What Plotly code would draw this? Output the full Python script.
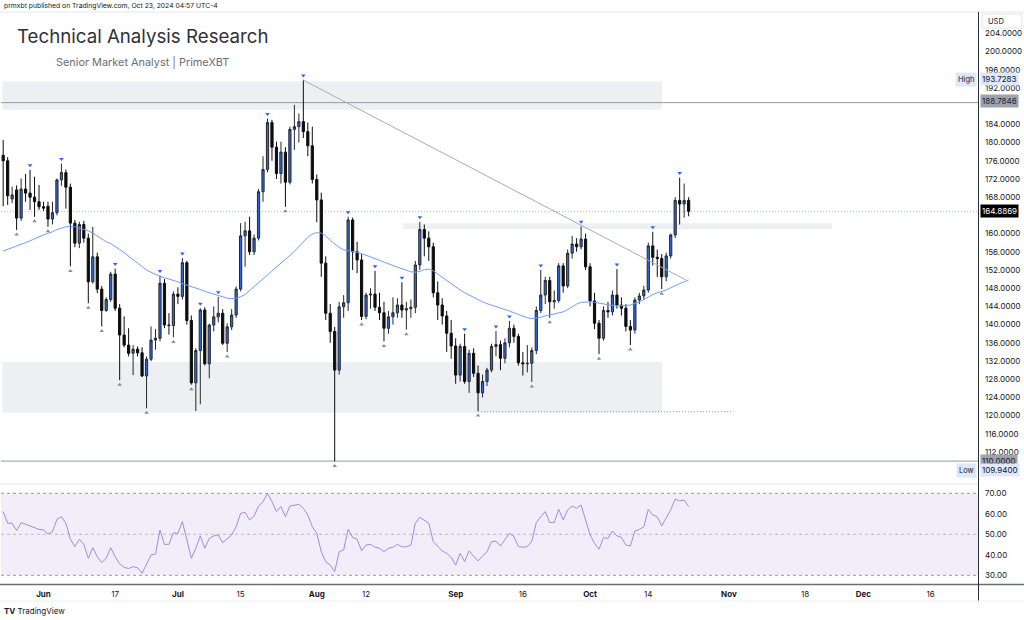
import plotly.graph_objects as go
import pandas as pd

# ---------------- data ----------------
dates = pd.date_range("2024-05-23", periods=154, freq="D")

opens = [177.2, 176.0, 167.6, 169.6, 163.4, 169.8, 168.9, 168.0, 167.0, 165.9,
         166.0, 163.2, 164.6, 171.8, 173.4, 170.2, 162.3, 157.9, 162.0, 159.0,
         149.4, 154.9, 147.8, 143.1, 145.5, 151.1, 143.6, 137.7, 135.5, 133.7,
         134.6, 133.8, 128.7, 132.4, 136.6, 137.0, 149.1, 139.9, 139.8, 146.7,
         146.2, 153.6, 140.9, 127.2, 134.3, 143.2, 131.4, 139.9, 141.7, 142.5,
         135.9, 139.5, 142.1, 147.8, 159.5, 160.6, 156.0, 159.0, 169.2, 174.1,
         184.4, 179.0, 173.2, 177.9, 171.3, 182.9, 183.5, 184.6, 182.4, 179.3,
         171.9, 167.4, 153.5, 142.5, 138.5, 130.0, 143.9, 144.8, 163.0, 156.0,
         154.2, 141.8, 146.5, 146.7, 143.8, 142.6, 139.2, 141.7, 142.6, 144.3,
         143.2, 143.5, 143.8, 153.1, 160.9, 159.0, 157.1, 147.0, 144.3, 141.9,
         138.1, 135.3, 128.9, 135.2, 127.5, 133.7, 129.3, 125.0, 127.5, 130.0,
         135.2, 135.6, 132.6, 136.0, 139.2, 137.4, 131.6, 131.4, 131.5, 134.3,
         143.1, 146.5, 149.7, 145.0, 145.3, 152.9, 148.5, 155.7, 157.7, 157.1,
         158.8, 152.7, 145.2, 140.3, 137.0, 143.1, 142.8, 146.5, 144.3, 143.6,
         139.6, 138.8, 145.4, 146.3, 147.6, 157.3, 154.8, 154.5, 150.5, 155.1,
         159.7, 167.3, 166.5, 167.3]
highs = [180.6, 176.8, 170.3, 170.6, 172.1, 173.1, 174.0, 172.5, 170.7, 167.0,
         167.0, 167.0, 172.1, 175.4, 174.1, 171.0, 163.0, 162.6, 162.8, 160.0,
         161.5, 155.8, 148.5, 146.0, 151.6, 152.3, 144.5, 141.8, 139.2, 135.5,
         135.2, 135.0, 133.0, 139.6, 139.0, 150.8, 150.0, 142.5, 147.3, 148.2,
         154.6, 154.0, 142.0, 134.8, 143.6, 143.8, 140.2, 144.0, 146.1, 143.4,
         140.3, 143.4, 148.4, 162.3, 162.6, 163.7, 159.8, 169.8, 177.0, 185.3,
         185.0, 180.2, 180.2, 179.0, 183.5, 188.3, 186.4, 193.73, 184.4, 183.5,
         173.0, 169.0, 155.0, 144.5, 139.5, 145.0, 146.5, 163.7, 163.5, 158.2,
         155.5, 147.0, 148.0, 151.8, 147.0, 145.0, 143.0, 146.0, 145.8, 149.3,
         145.0, 145.5, 154.0, 162.6, 162.0, 160.5, 158.0, 149.5, 145.8, 143.0,
         141.0, 137.0, 135.8, 138.0, 134.5, 134.8, 131.0, 129.0, 130.5, 135.8,
         138.6, 136.5, 137.0, 140.8, 140.0, 138.0, 134.0, 135.5, 135.0, 144.0,
         152.0, 150.5, 150.5, 147.5, 153.5, 153.5, 156.5, 159.5, 159.0, 161.6,
         160.0, 153.5, 147.0, 141.0, 144.0, 145.0, 147.5, 152.2, 146.0, 144.5,
         141.0, 146.0, 147.0, 148.5, 158.0, 160.4, 156.5, 155.5, 155.8, 160.0,
         168.0, 172.3, 171.0, 168.0]
lows = [166.0, 166.3, 166.7, 160.8, 162.8, 167.0, 165.2, 163.7, 165.2, 165.0,
        161.5, 162.0, 164.0, 170.5, 165.5, 152.8, 157.0, 156.8, 158.0, 144.7,
        149.0, 146.9, 139.6, 142.8, 145.0, 143.0, 127.8, 135.0, 133.0, 128.9,
        133.0, 128.5, 121.6, 132.0, 134.5, 136.3, 139.2, 137.8, 137.2, 144.5,
        145.5, 140.0, 126.8, 121.0, 122.5, 131.0, 128.2, 138.5, 140.5, 135.5,
        134.0, 138.8, 141.5, 147.3, 152.7, 155.3, 155.3, 158.5, 167.0, 173.5,
        176.0, 172.0, 171.0, 165.9, 170.8, 178.4, 180.0, 181.0, 177.0, 171.0,
        162.5, 150.5, 141.0, 136.0, 109.94, 129.0, 141.5, 143.0, 152.0, 151.3,
        141.0, 141.2, 143.5, 143.0, 141.0, 136.3, 138.0, 140.0, 141.5, 141.5,
        138.9, 141.5, 142.5, 152.0, 155.0, 154.0, 146.0, 141.0, 140.0, 134.0,
        132.5, 127.0, 127.5, 127.0, 125.0, 128.5, 121.0, 124.0, 126.5, 129.5,
        133.0, 130.0, 131.5, 135.0, 136.0, 131.0, 128.8, 129.5, 127.4, 133.5,
        142.5, 144.5, 141.5, 143.5, 144.8, 147.0, 148.0, 154.5, 156.0, 156.5,
        152.0, 144.0, 139.0, 133.5, 136.5, 141.5, 142.0, 143.5, 142.0, 138.5,
        135.5, 138.0, 144.5, 145.5, 147.0, 153.0, 150.5, 147.8, 149.5, 154.5,
        159.0, 162.0, 163.5, 163.8]
closes = [176.0, 168.3, 168.5, 163.4, 169.8, 168.9, 168.0, 167.0, 165.9, 165.6,
          163.2, 164.6, 171.8, 173.4, 170.2, 162.3, 157.9, 162.0, 159.0, 149.4,
          154.9, 147.8, 143.1, 145.5, 151.1, 143.6, 137.7, 135.5, 133.7, 134.6,
          133.8, 128.7, 132.4, 136.6, 137.0, 149.1, 139.9, 139.8, 146.7, 146.2,
          153.6, 140.9, 127.2, 134.3, 143.2, 131.4, 139.9, 141.7, 142.5, 135.9,
          139.5, 142.1, 147.8, 159.5, 160.6, 156.0, 159.0, 169.2, 174.1, 184.4,
          179.0, 173.2, 177.9, 171.3, 182.9, 183.5, 184.6, 182.4, 179.3, 171.9,
          167.4, 153.5, 142.5, 138.5, 130.0, 143.9, 144.8, 163.0, 156.0, 154.2,
          141.8, 146.5, 146.7, 143.8, 142.6, 139.2, 141.7, 142.6, 144.3, 143.2,
          143.5, 143.8, 153.1, 160.9, 159.0, 157.1, 147.0, 144.3, 141.9, 138.1,
          135.3, 128.9, 135.2, 127.5, 133.7, 129.3, 125.0, 127.5, 130.0, 135.2,
          135.6, 132.6, 136.0, 139.2, 137.4, 131.6, 131.4, 131.5, 134.3, 143.1,
          146.5, 149.7, 145.0, 145.3, 152.9, 148.5, 155.7, 157.7, 157.1, 158.8,
          152.7, 145.2, 140.3, 137.0, 143.1, 142.8, 146.5, 144.3, 143.6, 139.6,
          138.8, 145.4, 146.3, 147.6, 157.3, 154.8, 154.5, 150.5, 155.1, 159.7,
          167.3, 166.5, 167.3, 164.8869]

ma_values = [156.2, 156.5, 156.9, 157.3, 157.6, 158.0, 158.4, 158.9, 159.3, 159.7,
             160.0, 160.4, 160.9, 161.2, 161.5, 161.6, 161.5, 161.2, 160.9, 160.6,
             160.1, 159.4, 158.8, 158.2, 157.8, 157.2, 156.5, 155.8, 155.0, 154.2,
             153.4, 152.7, 152.0, 151.5, 151.0, 150.6, 150.3, 150.0, 149.8, 149.4,
             149.0, 148.7, 148.3, 148.0, 147.7, 147.3, 147.0, 146.6, 146.3, 146.0,
             145.8, 145.7, 145.8, 146.1, 146.6, 147.5, 148.3, 149.1, 150.0, 150.9,
             151.8, 152.6, 153.4, 154.4, 155.2, 156.1, 157.1, 158.2, 159.2, 159.9,
             160.2, 160.1, 159.5, 158.5, 157.7, 157.0, 156.4, 156.3, 156.1, 155.9,
             155.6, 155.3, 154.9, 154.5, 154.1, 153.7, 153.3, 153.0, 152.6, 152.3,
             152.0, 151.6, 151.5, 151.7, 152.1, 152.2, 151.8, 151.1, 150.4, 149.6,
             148.9, 148.2, 147.6, 147.0, 146.5, 145.9, 145.4, 145.0, 144.6, 144.3,
             144.0, 143.7, 143.4, 143.0, 142.6, 142.2, 141.8, 141.5, 141.3, 141.4,
             141.6, 141.9, 142.1, 142.3, 142.6, 142.8, 143.3, 143.9, 144.5, 144.9,
             145.0, 145.0, 144.9, 144.7, 144.6, 144.4, 144.2, 144.1, 144.1, 144.2,
             144.3, 144.6, 145.0, 145.5, 146.1, 146.6, 147.0, 147.3, 147.6, 148.1,
             148.6, 149.0, 149.4, 149.8]

rsi_values = [61.1, 55.4, 55.4, 51.8, 55.7, 54.9, 54.2, 53.4, 52.4, 52.1,
              50.2, 51.3, 57.3, 58.6, 55.4, 47.6, 44.0, 47.6, 45.1, 38.3,
              43.5, 39.1, 36.2, 38.3, 43.5, 39.1, 35.5, 33.9, 33.3, 34.2,
              33.7, 31.0, 35.5, 39.9, 40.4, 52.1, 45.1, 45.1, 50.8, 50.5,
              56.2, 47.2, 38.3, 43.2, 49.2, 43.2, 48.0, 49.2, 49.7, 45.9,
              48.0, 49.7, 53.7, 60.2, 60.7, 57.0, 58.9, 63.8, 65.9, 70.0,
              65.9, 61.1, 63.5, 58.6, 63.8, 64.3, 64.6, 62.7, 59.4, 53.7,
              50.5, 41.5, 36.7, 35.0, 31.8, 41.5, 42.4, 52.4, 48.5, 47.6,
              42.0, 44.8, 45.1, 43.7, 43.2, 41.5, 43.2, 43.7, 45.1, 43.9,
              43.9, 44.8, 55.4, 58.3, 57.0, 55.4, 46.4, 44.3, 41.9, 40.7,
              38.8, 35.0, 40.7, 36.7, 41.9, 39.4, 37.0, 39.4, 41.5, 46.4,
              46.7, 44.3, 47.6, 50.5, 48.9, 44.0, 43.7, 44.0, 46.7, 55.7,
              58.6, 61.1, 55.7, 55.7, 62.2, 57.0, 61.9, 63.8, 62.7, 64.3,
              57.0, 49.7, 45.6, 42.7, 48.4, 48.0, 51.6, 49.2, 48.5, 44.8,
              44.3, 51.6, 52.4, 53.7, 62.2, 59.4, 58.6, 54.1, 58.1, 61.9,
              67.1, 66.3, 66.7, 63.5]

pivot_high_dates = ["2024-05-29", "2024-06-05", "2024-06-17", "2024-06-27", "2024-07-02",
                    "2024-07-06", "2024-07-10", "2024-07-21", "2024-07-29", "2024-08-08",
                    "2024-08-14", "2024-08-20", "2024-08-24", "2024-09-03", "2024-09-10",
                    "2024-09-13", "2024-09-20", "2024-09-29", "2024-10-07", "2024-10-15",
                    "2024-10-21"]
pivot_low_dates = ["2024-05-26", "2024-05-30", "2024-06-02", "2024-06-07", "2024-06-11",
                   "2024-06-14", "2024-06-18", "2024-06-24", "2024-06-30", "2024-07-04",
                   "2024-07-12", "2024-07-25", "2024-08-05", "2024-08-11", "2024-08-16",
                   "2024-08-21", "2024-09-06", "2024-09-18", "2024-09-22", "2024-10-03",
                   "2024-10-10", "2024-10-17"]

# 164 and 188 are hidden behind the highlighted price boxes in the reference
price_ticks = [112, 116, 120, 124, 128, 132, 136, 140, 144, 148, 152, 156, 160,
               168, 172, 176, 180, 184, 192, 196, 200, 204]
rsi_ticks = [30, 40, 50, 60, 70]
time_tick_dates = ["2024-06-01", "2024-06-17", "2024-07-01", "2024-07-15", "2024-08-01",
                   "2024-08-12", "2024-09-01", "2024-09-16", "2024-10-01", "2024-10-14",
                   "2024-11-01", "2024-11-18", "2024-12-01", "2024-12-16"]
time_tick_labels = ["<b>Jun</b>", "17", "<b>Jul</b>", "15", "<b>Aug</b>", "12", "<b>Sep</b>",
                    "16", "<b>Oct</b>", "14", "<b>Nov</b>", "18", "<b>Dec</b>", "16"]

last_price = 164.8869
range_high = 193.7283
range_low = 109.94
level_top = 188.7846
level_bottom = 110.0
zone_top = (187.2, 193.5)
zone_bottom = (120.6, 131.8)
zone_mid = (161.0, 162.3)
support_line = 120.86
trend_start = ("2024-07-29", 193.73)
trend_end = ("2024-10-22 10:00", 149.8)

# ---------------- layout geometry ----------------
W, H = 1024, 620
FONT = "Inter, Roboto, Liberation Sans, sans-serif"


def px(x):
    return x / W


def py(y):
    return 1 - y / H


anchor = pd.Timestamp("2024-06-01")
ppd = 4.48
x_left = anchor - pd.Timedelta(days=(43.5 - 1) / ppd)
x_right = anchor + pd.Timedelta(days=(978 - 43.5) / ppd)

date_strs = list(dates.strftime("%Y-%m-%d"))
ph_idx = [date_strs.index(d) for d in pivot_high_dates]
pl_idx = [date_strs.index(d) for d in pivot_low_dates]

fig = go.Figure()

fig.add_trace(go.Candlestick(
    x=dates, open=opens, high=highs, low=lows, close=closes,
    increasing=dict(fillcolor="#2f66e6", line=dict(color="#26282e", width=1)),
    decreasing=dict(fillcolor="#0d0d0d", line=dict(color="#0d0d0d", width=1)),
    whiskerwidth=0, hoverinfo="skip", xaxis="x", yaxis="y"))

fig.add_trace(go.Scatter(x=dates, y=ma_values, mode="lines",
                         line=dict(color="#6f9ef6", width=1), hoverinfo="skip",
                         xaxis="x", yaxis="y"))

fig.add_trace(go.Scatter(x=[dates[i] for i in ph_idx], y=[highs[i] + 1.0 for i in ph_idx],
                         mode="markers", marker=dict(symbol="triangle-down", size=4, color="#2962ff"),
                         hoverinfo="skip", xaxis="x", yaxis="y"))
fig.add_trace(go.Scatter(x=[dates[i] for i in pl_idx], y=[lows[i] - 1.0 for i in pl_idx],
                         mode="markers", marker=dict(symbol="triangle-up", size=4, color="#8a8d96"),
                         hoverinfo="skip", xaxis="x", yaxis="y"))

fig.add_trace(go.Scatter(x=dates, y=rsi_values, mode="lines",
                         line=dict(color="#a18ae2", width=1), hoverinfo="skip",
                         xaxis="x2", yaxis="y2"))

shapes = []
zone_fill = "#eeeff2"
shapes.append(dict(type="rect", xref="x", yref="y", x0="2024-05-22 20:00", x1="2024-10-17 01:00",
                   y0=zone_top[0], y1=zone_top[1], fillcolor=zone_fill, line=dict(width=0), layer="below"))
shapes.append(dict(type="rect", xref="x", yref="y", x0="2024-05-22 20:00", x1="2024-10-17 01:00",
                   y0=zone_bottom[0], y1=zone_bottom[1], fillcolor=zone_fill, line=dict(width=0), layer="below"))
shapes.append(dict(type="rect", xref="x", yref="y", x0="2024-08-20 06:00", x1="2024-11-24 00:00",
                   y0=zone_mid[0], y1=zone_mid[1], fillcolor=zone_fill, line=dict(width=0), layer="below"))
# horizontal levels (same layer as the zones, drawn after them)
for lv in (level_top, level_bottom):
    shapes.append(dict(type="line", xref="x", yref="y", x0=x_left, x1=x_right, y0=lv, y1=lv,
                       line=dict(color="#969aa3", width=1), layer="below"))
shapes.append(dict(type="line", xref="x", yref="y", x0=x_left, x1=x_right, y0=last_price, y1=last_price,
                   line=dict(color="rgba(242,54,69,0.45)", width=1, dash="1px,2px"), layer="below"))
shapes.append(dict(type="line", xref="x", yref="y", x0="2024-09-06", x1="2024-11-02",
                   y0=support_line, y1=support_line,
                   line=dict(color="#9598a1", width=1, dash="1px,2px"), layer="below"))
shapes.append(dict(type="line", xref="x", yref="y", x0=trend_start[0], y0=trend_start[1],
                   x1=trend_end[0], y1=trend_end[1], line=dict(color="#a9acb4", width=1)))
# RSI band and guides
shapes.append(dict(type="rect", xref="paper", yref="y2", x0=px(1), x1=px(978), y0=30, y1=70,
                   fillcolor="rgba(126,87,194,0.10)", line=dict(width=0), layer="below"))
for lv, col in ((70, "#9598a1"), (50, "rgba(149,152,161,0.6)"), (30, "#9598a1")):
    shapes.append(dict(type="line", xref="paper", yref="y2", x0=px(1), x1=px(978), y0=lv, y1=lv,
                       line=dict(color=col, width=1, dash="3px,3px"), layer="below"))
# frame lines
shapes.append(dict(type="line", xref="paper", yref="paper", x0=0, x1=1, y0=py(12), y1=py(12),
                   line=dict(color="#e6e8ee", width=1)))
shapes.append(dict(type="line", xref="paper", yref="paper", x0=0, x1=px(978), y0=py(484), y1=py(484),
                   line=dict(color="#e0e3eb", width=1)))
shapes.append(dict(type="line", xref="paper", yref="paper", x0=0, x1=1, y0=py(584.5), y1=py(584.5),
                   line=dict(color="#6a6d78", width=1.5)))
shapes.append(dict(type="line", xref="paper", yref="paper", x0=px(978.5), x1=px(978.5), y0=py(12), y1=py(601),
                   line=dict(color="#2a2e39", width=1)))
shapes.append(dict(type="line", xref="paper", yref="paper", x0=0, x1=1, y0=py(601), y1=py(601),
                   line=dict(color="#eceef2", width=1)))
# USD box outline
shapes.append(dict(type="rect", xref="paper", yref="paper", x0=px(982), x1=px(1022), y0=py(28), y1=py(14),
                   line=dict(color="#e0e3eb", width=1), fillcolor="white"))

annotations = []


def label(text, x, y, size, color, xanchor="left", bg=None, border=None, pad=1):
    d = dict(text=text, xref="paper", yref="paper", x=px(x), y=py(y), xanchor=xanchor,
             yanchor="middle", showarrow=False, font=dict(family=FONT, size=size, color=color),
             borderpad=pad)
    if bg:
        d["bgcolor"] = bg
    if border:
        d["bordercolor"] = border
        d["borderwidth"] = 1
    annotations.append(d)


label("prmxbt published on TradingView.com, Oct 23, 2024 04:57 UTC-4", 2, 6, 6.8, "#131722")
label("Technical Analysis Research", 15, 36, 18.7, "#2f3136")
label("Senior Market Analyst | PrimeXBT", 54, 62, 10.9, "#6a6d78")
label("<b>TV</b> TradingView", 2, 611, 8, "#131722")
label("USD", 986, 21, 7.5, "#131722")
label("High", 977, 79, 7.5, "#131722", xanchor="right", bg="#dde8fb", pad=2)
label(f"{range_high:.4f}", 980, 79, 8, "#131722", bg="#dde8fb", pad=1)
label(f"{level_top:.4f}", 980, 101.5, 8, "#1e222d", bg="#9fa2ab", pad=1)
label(f"{last_price:.4f}", 980, 211, 8, "#ffffff", bg="#000000", pad=1)
label(f"{level_bottom:.4f}", 980, 460.5, 8, "#1e222d", bg="#9fa2ab", pad=1)
label("Low", 977, 470, 7.5, "#131722", xanchor="right", bg="#dde8fb", pad=2)
label(f"{range_low:.4f}", 980, 470, 8, "#131722", bg="#dde8fb", pad=1)

fig.update_layout(
    width=W, height=H, margin=dict(l=0, r=0, t=0, b=0),
    paper_bgcolor="white", plot_bgcolor="white", showlegend=False,
    font=dict(family=FONT, size=8, color="#131722"),
    shapes=shapes, annotations=annotations,
    xaxis=dict(domain=[px(1), px(978)], anchor="y", type="date", range=[x_left, x_right],
               showticklabels=False, showgrid=False, zeroline=False, rangeslider=dict(visible=False),
               matches="x2"),
    xaxis2=dict(domain=[px(1), px(978)], anchor="y2", type="date", range=[x_left, x_right],
                tickvals=time_tick_dates, ticktext=time_tick_labels, showgrid=False, zeroline=False,
                ticks="", ticklabelstandoff=4, tickfont=dict(size=8, color="#131722")),
    yaxis=dict(domain=[py(484), py(12)], anchor="x", side="right", range=[104.967, 208.70],
               tickvals=price_ticks, ticktext=[f"{v:.4f}" for v in price_ticks], showgrid=False,
               zeroline=False, ticks="", ticklabelstandoff=6, tickfont=dict(size=8, color="#131722")),
    yaxis2=dict(domain=[py(584), py(484)], anchor="x2", side="right", range=[25.76, 74.54],
                tickvals=rsi_ticks, ticktext=[f"{v:.2f}" for v in rsi_ticks], showgrid=False,
                zeroline=False, ticks="", ticklabelstandoff=6, tickfont=dict(size=8, color="#131722")),
)

fig.write_html("out.html")
